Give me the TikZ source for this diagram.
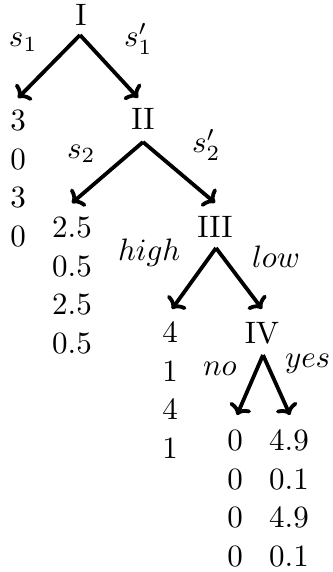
\documentclass[tikz,border=0pt]{standalone}
\usetikzlibrary{arrows.meta,calc}
\begin{document}
\begin{tikzpicture}[x=1pt,y=-1pt,
  every node/.style={inner sep=0pt,outer sep=0pt,scale=3.1,font=\fontsize{10}{12.42}\selectfont},
  lab/.style={anchor=base},
  mlab/.style={anchor=base west},
  vals/.style={anchor=north,align=center},
  edge/.style={line width=3.8pt,-{Computer Modern Rightarrow[length=10pt,width=23pt]}}]
\useasboundingbox (0,0) rectangle (332,572);
% decision nodes
\node[lab] (I) at (81,26) {I};
\node[lab] (II) at (143,130) {II};
\node[lab] (III) at (215,237) {III};
\node[lab] (IV) at (262,343) {IV};
% move labels
\node[mlab] (s1) at (9,47) {$s_1$};
\node[mlab] (s1p) at (124,47) {$s'_1$};
\node[mlab] (s2) at (67,158) {$s_2$};
\node[mlab] (s2p) at (192,153) {$s'_2$};
\node[mlab] (hi) at (118,260) {$high$};
\node[mlab] (lo) at (252,267) {$low$};
\node[mlab] (no) at (203,375) {$no$};
\node[mlab] (yes) at (285,367) {$yes$};
% payoffs
\node[vals] (v1) at (18,110) {3\\0\\3\\0};
\node[vals] (v2) at (72,217) {2.5\\0.5\\2.5\\0.5};
\node[vals] (v3) at (170,322) {4\\1\\4\\1};
\node[vals] (v4) at (235,430) {0\\0\\0\\0};
\node[vals] (v5) at (289,430) {4.9\\0.1\\4.9\\0.1};
% connectors
\draw[edge] ($(I.base)+(-1,9)$) -- ($(v1.north)+(0,-12)$);
\draw[edge] ($(I.base)+(-1,9)$) -- ($(II.north)+(-5,-11)$);
\draw[edge] ($(II.base)+(0,12)$) -- ($(v2.north)+(0,-14)$);
\draw[edge] ($(II.base)+(0,12)$) -- ($(III.north)+(0,-13)$);
\draw[edge] ($(III.base)+(1,11)$) -- ($(v3.north)+(2,-13)$);
\draw[edge] ($(III.base)+(1,11)$) -- ($(IV.north)+(0,-13)$);
\draw[edge] ($(IV.base)+(1,12)$) -- ($(v4.north)+(2,-15)$);
\draw[edge] ($(IV.base)+(1,12)$) -- ($(v5.north)+(1,-15)$);
\end{tikzpicture}
\end{document}
